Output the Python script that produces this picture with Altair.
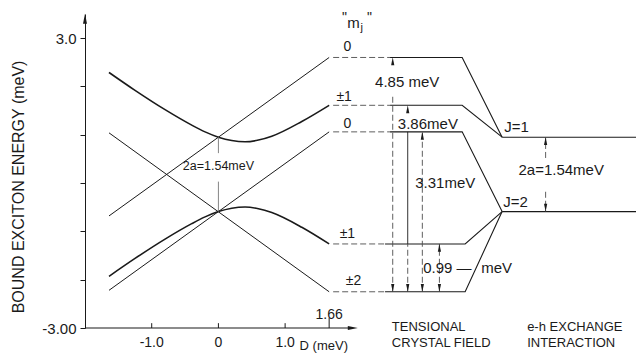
import altair as alt
import pandas as pd

FONT = "Liberation Sans"
INK = "#1a1a1a"
GREY = "#4d4d4d"

# ---------------- data ----------------
# left panel: bound exciton energy (meV) vs D (meV)
d_curve = [-1.64, -1.25, -0.8, -0.4, -0.2, 0.0, 0.2, 0.4, 0.6, 0.8, 1.25, 1.66]
upper_mix = [2.29, 1.92, 1.52, 1.20, 1.06, 0.95, 0.88, 0.855, 0.89, 0.97, 1.275, 1.61]
lower_mix = [-1.93, -1.56, -1.16, -0.84, -0.70, -0.59, -0.52, -0.495, -0.53, -0.61, -0.915, -1.26]

d_ends = [-1.64, 1.66]
line_top = [-0.68, 2.60]
line_fall = [1.04, -2.25]
line_low = [-2.22, 1.06]

# right panel: levels
mj_labels = ["0", "±1", "0", "±1", "±2"]
mj_E = [2.60, 1.61, 1.06, -1.26, -2.25]
mj_to_J = [0.95, 0.95, -0.59, -0.59, -0.59]
J_labels = ["J=1", "J=2"]
J_E = [0.95, -0.59]

x_tick_values = [-1.0, 0.0, 1.0]
x_tick_labels = ["-1.0", "0", "1.0"]
D_max = 1.66

# ---------------- layout (schematic positions) ----------------
x_dash_start = 1.72
x_solid_start = [2.573, 2.573, 2.573, 2.498, 2.498]
x_solid_end = [3.654, 3.654, 3.654, 3.699, 3.699]
x_J = 4.253
x_J_end = 6.26
x_meas = [2.613, 2.838, 3.057, 3.313]
x_J_arrow = 4.905

xs = alt.Scale(domain=[-2, 6.26], nice=False, zero=False)
ys = alt.Scale(domain=[-3, 3.5], nice=False, zero=False)
yaxis = alt.Axis(values=[-3, -2, -1, 0, 1, 2, 3], grid=False, title=None,
                 labelExpr="datum.value == 3 ? '3.0' : (datum.value == -3 ? '-3.00' : '')",
                 labelFont=FONT, labelFontSize=15, labelColor=INK, tickSize=5,
                 tickColor=INK, domainColor=INK, labelPadding=4)
X = alt.X("x:Q", scale=xs, axis=None)
Y = alt.Y("y:Q", scale=ys, axis=yaxis)

# curves
cur = pd.DataFrame([dict(g="u", x=d, y=e) for d, e in zip(d_curve, upper_mix)] +
                   [dict(g="l", x=d, y=e) for d, e in zip(d_curve, lower_mix)])
curves = alt.Chart(cur).mark_line(color=INK, strokeWidth=1.6, interpolate="monotone").encode(
    x=X, y=Y, detail="g:N")

lin = pd.DataFrame([dict(g=n, x=d, y=e) for n, arr in [("t", line_top), ("f", line_fall), ("l", line_low)]
                    for d, e in zip(d_ends, arr)])
lines = alt.Chart(lin).mark_line(color=INK, strokeWidth=1.0).encode(x=X, y=Y, detail="g:N")

# vertical grey line at D = 0 (broken by its label)
vz = pd.DataFrame({"x": [0.0, 0.0], "y": [J_E[0], 0.03], "y2": [0.62, J_E[1]]})
vzero = alt.Chart(vz).mark_rule(color="#777777", strokeWidth=0.9).encode(x=X, y=Y, y2="y2:Q")

# level paths
rows = []
for i, (e, ej) in enumerate(zip(mj_E, mj_to_J)):
    rows += [dict(g=f"m{i}", o=0, x=x_solid_start[i], y=e),
             dict(g=f"m{i}", o=1, x=x_solid_end[i], y=e),
             dict(g=f"m{i}", o=2, x=x_J, y=ej)]
for k, e in enumerate(J_E):
    rows += [dict(g=f"J{k}", o=0, x=x_J, y=e), dict(g=f"J{k}", o=1, x=x_J_end, y=e)]
levels = alt.Chart(pd.DataFrame(rows)).mark_line(color=INK, strokeWidth=1.1).encode(
    x=X, y=Y, detail="g:N", order="o:Q")

hd = pd.DataFrame({"x": [x_dash_start] * 5, "x2": x_solid_start, "y": mj_E})
hdash = alt.Chart(hd).mark_rule(color=GREY, strokeWidth=0.9, strokeDash=[6, 3]).encode(
    x=X, x2="x2:Q", y=Y)

# measurement verticals
low = mj_E[4]
vd = pd.DataFrame({
    "x": [x_meas[0], x_meas[1], x_meas[2], x_meas[3], x_J_arrow, x_J_arrow],
    "y": [low, low, low, low, 0.52, -0.18],
    "y2": [1.82, mj_E[3], mj_E[2], mj_E[3], J_E[0], J_E[1]]})
vdash = alt.Chart(vd).mark_rule(color=GREY, strokeWidth=0.9, strokeDash=[6, 3]).encode(
    x=X, y=Y, y2="y2:Q")
vs = pd.DataFrame({"x": [x_meas[1]], "y": [mj_E[3]], "y2": [mj_E[2]]})
vsolid = alt.Chart(vs).mark_rule(color=INK, strokeWidth=0.9).encode(x=X, y=Y, y2="y2:Q")

UP = "M0,-1L0.4,1L-0.4,1Z"
DOWN = "M0,1L0.4,-1L-0.4,-1Z"
RIGHT = "M1,0L-1,0.4L-1,-0.4Z"
ups = pd.DataFrame({"x": x_meas + [x_J_arrow],
                    "y": [mj_E[0] - 0.08, mj_E[1] - 0.08, mj_E[2] - 0.08, mj_E[3] - 0.08, J_E[0] - 0.08]})
downs = pd.DataFrame({"x": x_meas + [x_J_arrow],
                      "y": [low + 0.08] * 4 + [J_E[1] + 0.08]})
up_arr = alt.Chart(ups).mark_point(shape=UP, filled=True, size=64, color=INK, opacity=1).encode(x=X, y=Y)
dn_arr = alt.Chart(downs).mark_point(shape=DOWN, filled=True, size=64, color=INK, opacity=1).encode(x=X, y=Y)

# x axis drawn by hand (ticks point up, axis stops at the arrow)
xa = pd.DataFrame({"x": [-2.0], "x2": [2.0], "y": [-3.0]})
xaxis_line = alt.Chart(xa).mark_rule(color=INK, strokeWidth=1.1).encode(x=X, x2="x2:Q", y=Y)
xt = pd.DataFrame({"x": x_tick_values + [D_max], "y": [-3.0] * 4, "y2": [-2.9, -2.9, -2.9, -2.79]})
xticks = alt.Chart(xt).mark_rule(color=INK, strokeWidth=1).encode(x=X, y=Y, y2="y2:Q")
xarr = alt.Chart(pd.DataFrame({"x": [2.015], "y": [-3.0]})).mark_point(
    shape=RIGHT, filled=True, size=100, color=INK, opacity=1).encode(x=X, y=Y)
yarr = alt.Chart(pd.DataFrame({"x": [-2.0], "y": [3.4]})).mark_point(
    shape=UP, filled=True, size=100, color=INK, opacity=1).encode(x=X, y=Y)

# texts
left_txt = pd.DataFrame([
    ("4.85 meV", 2.349, 2.094, 15), ("3.86meV", 2.69, 1.217, 15), ("3.31meV", 2.951, 0.0, 15),
    ("0.99 —", 3.069, -1.757, 15), ("meV", 3.939, -1.757, 15),
    (J_labels[0], 4.284, 1.162, 15), (J_labels[1], 4.269, -0.391, 15),
    ("2a=1.54meV", 4.498, 0.271, 15),
    ("TENSIONAL", 2.60, -2.98, 13), ("CRYSTAL FIELD", 2.60, -3.31, 13),
    ("e-h EXCHANGE", 4.628, -2.98, 13), ("INTERACTION", 4.628, -3.31, 13),
], columns=["t", "x", "y", "fs"])
ltext = alt.Chart(left_txt).mark_text(align="left", baseline="middle", font=FONT, color=INK).encode(
    x=X, y=Y, text="t:N", size=alt.Size("fs:Q", scale=None))

mj_pos_x = [1.934, 1.885, 1.934, 1.934, 2.024]
mj_pos_y = [2.817, 1.782, 1.223, -1.045, -2.029]
ctr = [(mj_labels[i], mj_pos_x[i], mj_pos_y[i], 14) for i in range(5)]
ctr += [(lab, v, -3.31, 14) for lab, v in zip(x_tick_labels, x_tick_values)]
ctr += [("1.66", D_max, -2.73, 14), ("D (meV)", 1.58, -3.37, 13), ("2a=1.54meV", 0.0, 0.35, 12.5)]
ctext = alt.Chart(pd.DataFrame(ctr, columns=["t", "x", "y", "fs"])).mark_text(
    align="center", baseline="middle", font=FONT, color=INK).encode(
    x=X, y=Y, text="t:N", size=alt.Size("fs:Q", scale=None))

hdr = pd.DataFrame([('"', 1.854, 3.335, 14), ("m", 1.931, 3.21, 15), ("j", 2.13, 3.148, 11),
                    ('"', 2.229, 3.335, 14)], columns=["t", "x", "y", "fs"])
htext = alt.Chart(hdr).mark_text(align="left", baseline="alphabetic", font=FONT, color=INK).encode(
    x=X, y=Y, text="t:N", size=alt.Size("fs:Q", scale=None))

ytitle = alt.Chart(pd.DataFrame({"t": ["BOUND EXCITON ENERGY  (meV)"], "x": [-2.996], "y": [-0.08]})).mark_text(
    angle=270, align="center", baseline="middle", font=FONT, fontSize=16, color=INK).encode(
    x=X, y=Y, text="t:N")

chart = alt.layer(
    lines, curves, vzero, levels, hdash, vdash, vsolid, up_arr, dn_arr,
    xaxis_line, xticks, xarr, yarr, ltext, ctext, htext, ytitle
).properties(
    width=551, height=314,
    padding={"left": 77, "top": 6, "right": 0, "bottom": 26},
    autosize=alt.AutoSizeParams(type="none"),
    background="white",
).configure_view(stroke=None)

chart.save("out.html", embed_options={"renderer": "svg", "actions": False})
